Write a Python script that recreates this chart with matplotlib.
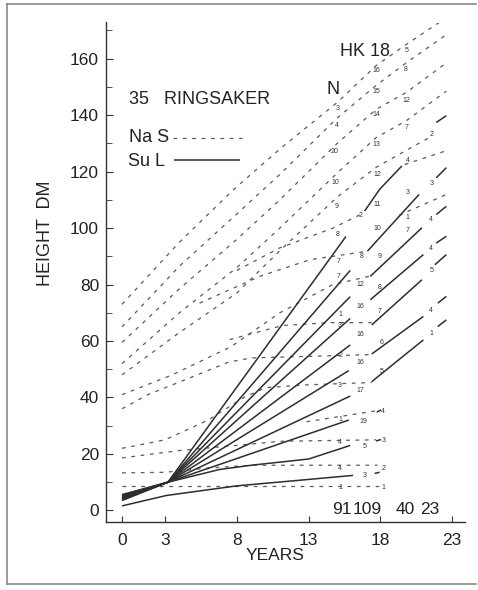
import matplotlib
matplotlib.use("Agg")
import matplotlib.pyplot as plt
from matplotlib.ticker import MultipleLocator

plt.rcParams['font.family'] = ['Liberation Sans', 'DejaVu Sans']

# ---------------- data (years, height dm) ----------------
# Na S (dashed) curves
nas_16 = ([0, 4, 7.75, 11, 15, 17.7, 19.8, 22.6], [73, 95, 113.5, 128, 144.5, 157.5, 165, 174.5])
nas_15 = ([0, 4, 8, 11, 15, 17.7, 19.8, 22.6], [65, 86.5, 105, 119, 139, 150.5, 158.5, 168.5])
nas_14 = ([0, 4, 8, 11, 15, 17.7, 19.8, 22.6], [59.5, 78.5, 96, 110, 130, 142, 148, 158.5])
nas_13 = ([0, 4, 8, 11, 15, 17.7, 19.8, 22.6], [52, 70, 86, 100, 119.5, 132, 138, 148.5])
nas_12 = ([0, 4, 8, 11, 15, 17.7, 19.8, 21.4], [48, 63, 77, 92, 111, 121.5, 127.5, 132])
nas_11 = ([8, 11, 14.7, 16.9], [85, 93, 100, 105.5])
nas_11r = ([19.7, 22.6], [122.5, 127.4])
nas_10 = ([0, 3.5, 7.6, 11, 14.7, 17.3], [41, 48, 58, 70, 80, 83])
nas_9 = ([5.4, 9.6, 13.1, 17.1], [73.4, 82.9, 88.8, 91.8])
nas_7 = ([7.5, 11.2, 14.5, 17.4], [60.5, 65.5, 66.5, 66.5])
nas_6 = ([0, 1.8, 5, 7.4, 9, 17.4], [36, 41, 47.5, 52.5, 54, 55.2])
nas_5 = ([0, 3, 6, 8.5, 10, 13, 17.4], [22, 25, 32, 40, 43.5, 44.5, 45.3])
nas_4 = ([12.85, 17.75], [31.4, 35.3])
nas_3 = ([0, 4.15, 5.5, 9, 11, 17.7], [18.6, 21.3, 21.9, 23.5, 24.5, 25])
nas_2 = ([0, 3, 6, 9, 17.8], [13.3, 13.5, 15, 16, 16])
nas_1 = ([0, 18.2], [8.6, 8.6])
nas_r1 = ([19.3, 22.6], [104.5, 111.9])

# Su L (solid) curves
sul_a = ([0, 3.2, 15.6], [5.6, 10, 97])
sul_b = ([0, 3.2, 15.9], [5.3, 10, 85])
sul_c = ([0, 3.2, 15.9], [5.0, 10, 75.7])
sul_d = ([0, 3.2, 15.9], [4.7, 10, 68])
sul_e = ([0, 3.2, 15.9], [4.4, 10, 58.6])
sul_f = ([0, 3.2, 15.8], [4.2, 10, 49.5])
sul_g = ([0, 3.2, 15.9], [4.0, 10, 40.5])
sul_h = ([0, 3.2, 15.8], [3.8, 10, 32])
sul_i = ([0, 3.2, 6.8, 9, 13, 15.9], [3.5, 10, 14.5, 16, 18.2, 23])
sul_j = ([0, 3.1, 8, 12.4, 16.1], [1.6, 5.3, 8.7, 10.7, 12.4])
sul_11 = ([16.9, 17.95, 19.5], [106, 113.7, 122])
sul_10 = ([17.1, 20.7], [91.8, 111.9])
sul_9 = ([17.3, 20.9], [82.9, 100.1])
sul_8 = ([17.3, 21.0], [74.6, 90.6])
sul_7 = ([17.4, 20.9], [65.7, 81.7])
sul_6 = ([17.4, 21.0], [55.4, 68.7])
sul_5 = ([17.4, 21.0], [45.6, 60.4])
stub_11 = ([21.9, 22.6], [137.4, 139.8])
stub_10 = ([21.9, 22.6], [117.8, 121.4])
stub_9 = ([21.9, 22.6], [104.8, 107.7])
stub_8 = ([21.9, 22.6], [94.7, 97.1])
stub_7 = ([21.8, 22.6], [87, 90.6])
stub_6 = ([22.0, 22.6], [73.4, 75.8])
stub_5 = ([22.0, 22.6], [65.1, 67.5])
stub_4 = ([17.75, 18.05], [34.8, 35.6])
stub_3 = ([17.7, 18.05], [24.6, 25.1])
stub_2 = ([17.6, 17.95], [13.1, 13.5])

# small number labels (year, height, text)
lab_a_years = [15.0, 15.0, 14.8, 14.85, 14.95, 15.05, 15.1, 15.1, 15.2, 15.2, 15.2, 15.2, 15.2, 15.2, 15.2, 15.2]
lab_a_h = [142.3, 136.2, 127.2, 116, 107.7, 97.8, 88.2, 82.7, 69.3, 65.4, 54.7, 44.4, 32.2, 23.9, 14.8, 8.1]
lab_a_txt = ["3", "4", "20", "10", "9", "8", "7", "7", "1", "3", "2", "3", "1", "4", "4", "1"]
lab_b_years = [16.65, 16.7, 16.6, 16.6, 16.6, 16.6, 16.6, 16.8, 16.9, 16.9]
lab_b_h = [104.4, 90, 80, 72.2, 62.2, 52.3, 42.4, 31.4, 22.5, 12.4]
lab_b_txt = ["2", "8", "12", "16", "16", "16", "17", "19", "5", "3"]
lab_c_years = [17.7, 17.7, 17.7, 17.7, 17.8, 17.8, 17.8, 17.95, 17.95, 17.95, 18.07, 18.07, 18.2, 18.2, 18.2, 18.2]
lab_c_h = [155.7, 148.3, 140.1, 129.7, 119, 108.3, 100, 90, 78.8, 70.4, 59.4, 49.1, 35, 24.6, 15, 8.1]
lab_c_txt = ["16", "15", "14", "13", "12", "11", "10", "9", "8", "7", "6", "5", "4", "3", "2", "1"]
lab_d_years = [19.8, 19.8, 19.8, 19.8, 19.9, 19.9, 19.9, 19.9]
lab_d_h = [162.8, 156.2, 145.1, 135.7, 124.1, 112.5, 103.6, 99]
lab_d_txt = ["5", "8", "12", "7", "4", "3", "1", "7"]
lab_e_years = [21.55, 21.55, 21.55, 21.55, 21.55, 21.55, 21.55]
lab_e_h = [133.2, 115.8, 103, 92.6, 84.9, 70.8, 62.8]
lab_e_txt = ["2", "3", "4", "4", "5", "4", "1"]

count_years = [15.35, 17.1, 19.75, 21.45]
count_txt = ["91", "109", "40", "23"]

x_ticks = [0, 3, 8, 13, 18, 23]
y_ticks = [0, 20, 40, 60, 80, 100, 120, 140, 160]

# ---------------- drawing ----------------
W, H = 478, 590
fig = plt.figure(figsize=(W / 100, H / 100), dpi=100)
ax = fig.add_axes([106 / W, 1 - 522 / H, (465 - 106) / W, (522 - 22.5) / H])
ax.set_xlim(-1.115, 23.9)
ax.set_ylim(-4.1, 172.8)

dash_style = dict(color="#5a5a5a", lw=0.9, linestyle=(0, (3.0, 4.5)))
solid_style = dict(color="#2e2e2e", lw=1.1, solid_capstyle="butt")

for ln in [nas_16, nas_15, nas_14, nas_13, nas_12, nas_11, nas_11r, nas_10, nas_9,
           nas_7, nas_6, nas_5, nas_4, nas_3, nas_2, nas_1, nas_r1]:
    ax.plot(ln[0], ln[1], **dash_style)

for ln in [sul_a, sul_b, sul_c, sul_d, sul_e, sul_f, sul_g, sul_h, sul_i, sul_j,
           sul_11, sul_10, sul_9, sul_8, sul_7, sul_6, sul_5,
           stub_11, stub_10, stub_9, stub_8, stub_7, stub_6, stub_5,
           stub_4, stub_3, stub_2]:
    ax.plot(ln[0], ln[1], **solid_style)

lab_kw = dict(fontsize=5, color="#333333", ha="center", va="center")
for ys, hs, ts in [(lab_a_years, lab_a_h, lab_a_txt), (lab_b_years, lab_b_h, lab_b_txt),
                   (lab_c_years, lab_c_h, lab_c_txt), (lab_d_years, lab_d_h, lab_d_txt),
                   (lab_e_years, lab_e_h, lab_e_txt)]:
    for x, y, t in zip(ys, hs, ts):
        ax.text(x, y, t, **lab_kw)

for x, t in zip(count_years, count_txt):
    ax.text(x, 0.2, t, fontsize=12.5, ha="center", va="center", color="#222222")

# axes styling
for s in ["top", "right"]:
    ax.spines[s].set_visible(False)
for s in ["left", "bottom"]:
    ax.spines[s].set_color("#333333")
    ax.spines[s].set_linewidth(1.0)

ax.set_xticks(x_ticks)
ax.set_xticklabels([str(v) for v in x_ticks])
ax.set_yticks(y_ticks)
ax.set_yticklabels([str(v) for v in y_ticks])
ax.yaxis.set_minor_locator(MultipleLocator(10))
ax.tick_params(axis="both", which="both", direction="in", color="#333333", labelcolor="#222222")
ax.tick_params(axis="y", which="major", length=5, labelsize=12.5, pad=5)
ax.tick_params(axis="y", which="minor", length=4)
ax.tick_params(axis="x", which="major", length=4, labelsize=12.5, pad=8)

# titles / legends as text
fig.text(46 / W, 1 - 233 / H, "HEIGHT  DM", rotation=90, fontsize=13, ha="center", va="center", color="#222222")
fig.text(275 / W, 1 - 555 / H, "YEARS", fontsize=12.5, ha="center", va="center", color="#222222")
fig.text(129 / W, 1 - 100 / H, "35   RINGSAKER", fontsize=13, ha="left", va="center", color="#222222")
fig.text(340 / W, 1 - 51 / H, "HK 18", fontsize=13, ha="left", va="center", color="#222222")
fig.text(333 / W, 1 - 90 / H, "N", fontsize=13, ha="center", va="center", color="#222222")
fig.text(129 / W, 1 - 138 / H, "Na S", fontsize=13, ha="left", va="center", color="#222222")
fig.text(128 / W, 1 - 162 / H, "Su L", fontsize=13, ha="left", va="center", color="#222222")
fig.add_artist(plt.Line2D([173 / W, 242 / W], [1 - 138 / H, 1 - 138 / H], transform=fig.transFigure, **dash_style))
fig.add_artist(plt.Line2D([174 / W, 240 / W], [1 - 160 / H, 1 - 160 / H], transform=fig.transFigure, **solid_style))

# scan frame
frame_kw = dict(transform=fig.transFigure, color="#8a8a8a", lw=1.2)
fig.add_artist(plt.Line2D([7 / W, 7 / W], [1 - 4 / H, 1 - 584 / H], **frame_kw))
fig.add_artist(plt.Line2D([7 / W, 476 / W], [1 - 4 / H, 1 - 4 / H], **frame_kw))
fig.add_artist(plt.Line2D([7 / W, 476 / W], [1 - 584 / H, 1 - 584 / H], **frame_kw))

fig.savefig("out.png", dpi=100, facecolor="white")
